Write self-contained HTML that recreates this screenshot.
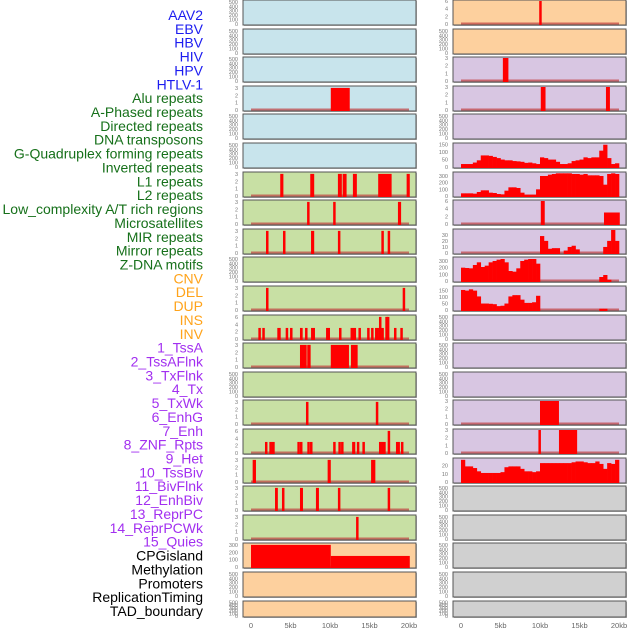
<!DOCTYPE html>
<html><head><meta charset="utf-8"><style>
html,body{margin:0;padding:0;background:#fff;width:630px;height:630px;overflow:hidden}
svg{display:block;font-family:"Liberation Sans",sans-serif}
</style></head><body>
<svg id="chart" width="630" height="630" viewBox="0 0 630 630"></svg>
<script>
const rowLabels=["AAV2","EBV","HBV","HIV","HPV","HTLV-1","Alu repeats","A-Phased repeats","Directed repeats","DNA transposons","G-Quadruplex forming repeats","Inverted repeats","L1 repeats","L2 repeats","Low_complexity A/T rich regions","Microsatellites","MIR repeats","Mirror repeats","Z-DNA motifs","CNV","DEL","DUP","INS","INV","1_TssA","2_TssAFlnk","3_TxFlnk","4_Tx","5_TxWk","6_EnhG","7_Enh","8_ZNF_Rpts","9_Het","10_TssBiv","11_BivFlnk","12_EnhBiv","13_ReprPC","14_ReprPCWk","15_Quies","CPGisland","Methylation","Promoters","ReplicationTiming","TAD_boundary"];
const labelGroups=[6,13,5,15,5];
const groupColors=["#1c1cf0","#16701a","#ffa31a","#a22ff0","#000000"];
const xTickValues=[0,5,10,15,20];
const xTickLabels=["0","5kb","10kb","15kb","20kb"];
const leftBg=["#c8e4ec","#c8e4ec","#c8e4ec","#c8e4ec","#c8e4ec","#c8e4ec","#c8e0a4","#c8e0a4","#c8e0a4","#c8e0a4","#c8e0a4","#c8e0a4","#c8e0a4","#c8e0a4","#c8e0a4","#c8e0a4","#c8e0a4","#c8e0a4","#c8e0a4","#fdd09e","#fdd09e","#fdd09e"];
const rightBg=["#fdd09e","#fdd09e","#d8c6e2","#d8c6e2","#d8c6e2","#d8c6e2","#d8c6e2","#d8c6e2","#d8c6e2","#d8c6e2","#d8c6e2","#d8c6e2","#d8c6e2","#d8c6e2","#d8c6e2","#d8c6e2","#d8c6e2","#d0d0d0","#d0d0d0","#d0d0d0","#d0d0d0","#d0d0d0"];
const leftTop=[0,0,0,3,0,0,3,3,3,0,3,6,3,0,3,6,3,3,3,300,0,0];
const rightTop=[6,0,3,3,0,150,300,6,30,300,150,0,0,0,3,3,20,0,0,0,0,0];
const rightMax=[6,0,3,3,0,155,345,6,38,345,178,0,0,0,3,3,28,0,0,0,0,0];
const rightStep=[2,0,1,1,0,50,100,2,10,100,50,0,0,0,1,1,10,0,0,0,0,0];
const leftStep=[0,0,0,1,0,0,1,1,1,0,1,2,1,0,1,2,1,1,1,100,0,0];
const L_alu=[[10.1,12.5,3]];
const L_l1=[[3.7,4.1,3],[7.5,8.0,3],[11.0,11.5,3],[11.6,12.1,3],[12.9,13.4,3],[16.1,17.8,3],[19.7,20.1,3]];
const L_l2=[[7.1,7.3,3],[10.4,10.6,3],[18.6,19.0,3]];
const L_low=[[1.9,2.1,3],[4.05,4.3,3],[7.6,8.0,3],[11.0,11.3,3],[16.5,16.8,3],[17.3,17.6,3]];
const L_mir=[[1.9,2.1,3],[19.2,19.5,3]];
const L_r11=[[0.93,1.14,3],[1.43,1.69,3],[3.33,3.76,3],[4.39,4.64,3],[4.94,5.15,3],[6.2,6.54,3],[6.84,7.05,3],[7.6,8.1,3],[9.5,10.0,3],[11.14,11.35,3],[12.6,13.3,3],[13.6,13.8,3],[14.7,15.0,3],[15.2,15.5,3],[15.7,16.2,3],[16.2,16.5,6],[16.5,16.8,3],[17.0,17.2,6],[17.2,17.4,6],[18.1,18.3,3],[18.9,19.2,3]];
const L_r12=[[6.2,7.05,3],[7.12,7.55,3],[10.1,12.4,3],[12.65,13.5,3]];
const L_r14=[[6.96,7.25,3],[15.8,16.1,3]];
const L_r15=[[1.77,2.0,3],[2.32,2.53,3],[2.6,3.0,3],[5.87,6.08,3],[6.2,6.4,3],[7.13,7.3,3],[7.47,7.72,3],[10.4,10.6,3],[11.06,11.22,3],[11.4,11.6,3],[12.8,13.2,3],[13.4,13.6,3],[14.1,14.3,3],[16.2,16.45,3],[16.5,17.05,3],[17.3,17.6,6],[18.35,18.85,3],[18.98,19.2,3]];
const L_r16=[[0.21,0.63,3],[9.7,10.1,3],[15.2,15.74,3]];
const L_r17=[[3.04,3.4,3],[3.92,4.22,3],[6.2,6.58,3],[8.22,8.6,3],[11.0,11.27,3],[17.3,17.6,3]];
const L_r18=[[13.3,13.6,3]];
const L_cpg=[[0,10.1,300],[10.1,20.1,150]];
const R_aav=[[9.9,10.1,6]];
const R_r2=[[5.3,6.0,3]];
const R_r3=[[10.1,10.7,3],[18.35,18.85,3]];
const R_r7=[[10.1,10.6,6],[18.1,20.1,3]];
const R_r14=[[10.0,12.4,3]];
const R_r15=[[9.8,10.1,3],[12.4,14.7,3]];
const R_gquad=[20,20,20,30,45,78,78,75,68,60,50,45,45,40,38,35,28,30,25,20,65,60,50,50,35,20,20,25,40,45,50,65,60,65,65,110,150,60,20,25];
const R_l1=[40,40,40,35,60,85,85,50,45,30,25,80,130,130,120,50,20,20,20,100,300,300,320,330,340,340,340,340,330,330,320,330,310,310,310,300,170,330,340,330];
const R_mir=[0,0,0,0,0,0,0,0,0,0,0,0,0,0,0,0,0,0,0,0,28,20,7,8,8,0,4,10,12,6,0,0,0,0,0,0,10,20,38,20];
const R_zdna=[200,195,190,240,280,210,230,280,300,320,330,280,150,140,190,300,320,330,330,260,0,0,0,0,0,0,0,0,0,0,0,0,0,0,0,60,90,20,0,0];
const R_del=[155,150,160,150,105,50,50,48,45,30,33,50,105,115,115,80,55,55,60,110,0,0,0,0,0,0,0,0,0,0,0,0,0,0,0,10,10,0,0,0];
const R_r16=[27,19,19,17,13,11,11,11,11,11,12,18,19,19,19,16,13,13,12,13,23,23,23,23,23,23,23,23,24,25,25,24,23,23,25,22,16,23,22,27];
const leftIntervals={3:L_alu,6:L_l1,7:L_l2,8:L_low,10:L_mir,11:L_r11,12:L_r12,14:L_r14,15:L_r15,16:L_r16,17:L_r17,18:L_r18,19:L_cpg};
const rightIntervals={0:R_aav,2:R_r2,3:R_r3,7:R_r7,14:R_r14,15:R_r15};
const rightBins={5:R_gquad,6:R_l1,8:R_mir,9:R_zdna,10:R_del,16:R_r16};

const NS="http://www.w3.org/2000/svg";
const svg=document.getElementById('chart');
function mk(tag,attrs,parent){const e=document.createElementNS(NS,tag);for(const k in attrs)e.setAttribute(k,attrs[k]);(parent||svg).appendChild(e);return e;}
const PX0L=251,PX0R=461,PXK=7.9;
function xScale(side,kb){return (side?PX0R:PX0L)+kb*PXK;}
function rowTop(i){return Math.round(i*28.6);}
function rowH(i){return i===21?16:25;}

let gi=0,cnt=0;
rowLabels.forEach((t,i)=>{
  while(cnt>=labelGroups[gi]){cnt=0;gi++;}
  cnt++;
  const el=mk('text',{x:203,y:15+i*13.86+5,'text-anchor':'end','font-size':'14',fill:groupColors[gi]});
  el.textContent=t;
  
  
});

function drawPanel(side,i){
  const g=mk('g',{});
  
  
  const x0=side?453:243,w=173,top=rowTop(i),h=rowH(i),bottom=top+h;
  mk('rect',{x:x0+1,y:top+1,width:w,height:h,fill:'#b8b8b8'},g);
  mk('rect',{x:x0,y:top,width:w,height:h,fill:side?rightBg[i]:leftBg[i],stroke:'#555','stroke-width':1},g);
  let topTick=side?rightTop[i]:leftTop[i],step=side?rightStep[i]:leftStep[i],ymax;
  const empty=topTick===0;
  if(empty){topTick=500;step=100;ymax=520;} else ymax=side?rightMax[i]:topTick*1.04;
  const yS=v=>bottom-1-v/ymax*(h-2);
  const tg=mk('g',{},g);
  
  
  for(let v=0;v<=topTick+1e-9;v+=step){
    const t=mk('text',{x:x0-5,y:yS(v)+2,'text-anchor':'end','font-size':'5.5',fill:'#777'},tg);
    t.textContent=String(v);
  }
  if(empty) return;
  mk('line',{x1:xScale(side,0),x2:xScale(side,20),y1:bottom-1.5,y2:bottom-1.5,stroke:'#c04040','stroke-width':2,opacity:0.7},g);
  const iv=side?rightIntervals[i]:leftIntervals[i];
  if(iv) iv.forEach(d=>{
    const r=mk('rect',{x:xScale(side,d[0]),y:yS(d[2]),width:Math.max(2.5,xScale(side,d[1])-xScale(side,d[0])),height:bottom-yS(d[2]),fill:'#ff0000'},g);
    
    
  });
  const bins=side?rightBins[i]:null;
  if(bins) bins.forEach((v,b)=>{
    if(!v) return;
    const r=mk('rect',{x:xScale(side,b*0.5),y:yS(v),width:xScale(side,0.5)-xScale(side,0)+0.3,height:bottom-yS(v),fill:'#ff0000'},g);
    
    
  });
}
for(let i=0;i<22;i++){drawPanel(0,i);drawPanel(1,i);}
[0,1].forEach(side=>{
  const ax=mk('g',{});
  
  
  xTickValues.forEach((v,k)=>{
    const t=mk('text',{x:xScale(side,v),y:628,'text-anchor':'middle','font-size':'7.5',fill:'#666'},ax);
    t.textContent=xTickLabels[k];
  });
});
</script>
</body></html>
